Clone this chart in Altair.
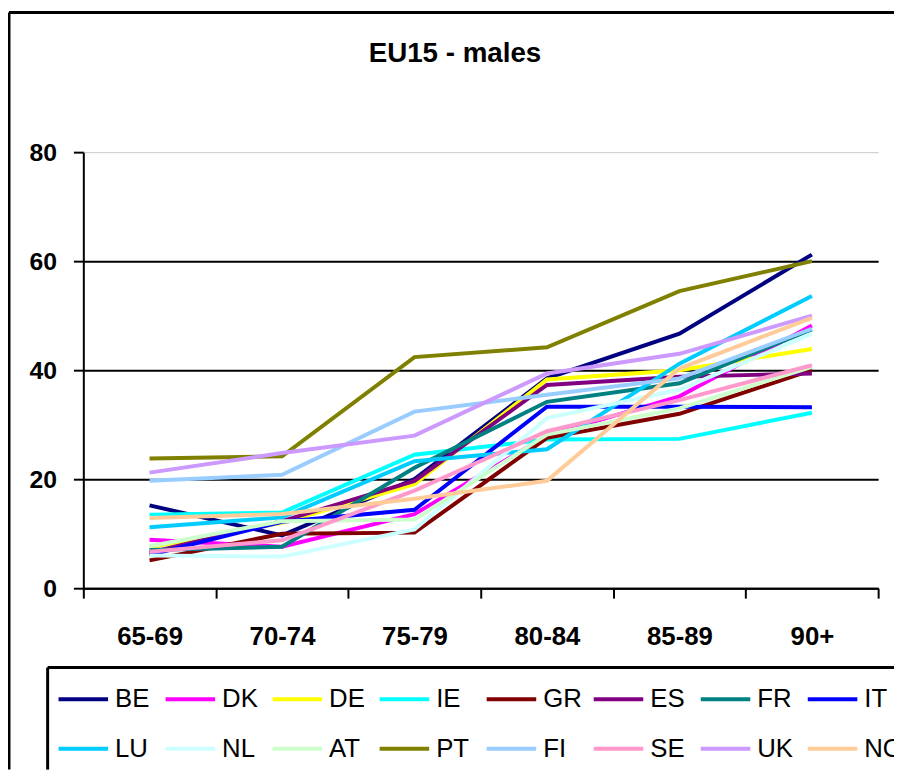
import altair as alt
import pandas as pd

categories = ["65-69", "70-74", "75-79", "80-84", "85-89", "90+"]
countries = ["BE", "DK", "DE", "IE", "GR", "ES", "FR", "IT",
             "LU", "NL", "AT", "PT", "FI", "SE", "UK", "NO"]
colors = ["#000080", "#FF00FF", "#FFFF00", "#00FFFF", "#800000", "#800080", "#008080", "#0000FF",
          "#00CCFF", "#CCFFFF", "#CCFFCC", "#808000", "#99CCFF", "#FF99CC", "#CC99FF", "#FFCC99"]

BE = [15.2, 9.7, 20.0, 38.5, 46.7, 61.2]
DK = [8.9, 7.6, 13.6, 28.0, 35.2, 48.2]
DE = [7.5, 12.0, 19.1, 38.3, 40.0, 43.9]
IE = [13.5, 13.9, 24.5, 27.3, 27.4, 32.2]
GR = [5.1, 10.0, 10.2, 27.6, 32.0, 40.0]
ES = [6.5, 12.3, 19.7, 37.3, 38.8, 39.4]
FR = [7.0, 7.6, 22.1, 34.2, 37.6, 47.5]
IT = [6.1, 12.2, 14.4, 33.3, 33.3, 33.2]
LU = [11.2, 13.0, 23.3, 25.5, 41.2, 53.6]
NL = [6.0, 5.8, 10.8, 31.2, 36.4, 46.7]
AT = [7.7, 12.3, 12.6, 28.2, 33.0, 40.6]
PT = [23.8, 24.2, 42.4, 44.2, 54.5, 60.0]
FI = [19.7, 20.8, 32.4, 35.5, 38.5, 47.6]
SE = [6.7, 8.8, 17.9, 28.8, 34.5, 40.9]
UK = [21.2, 24.8, 28.0, 39.4, 43.0, 50.0]
NO = [12.9, 13.6, 16.4, 19.7, 40.3, 49.6]

series = {"BE": BE, "DK": DK, "DE": DE, "IE": IE, "GR": GR, "ES": ES, "FR": FR, "IT": IT,
          "LU": LU, "NL": NL, "AT": AT, "PT": PT, "FI": FI, "SE": SE, "UK": UK, "NO": NO}

rows = []
for i, c in enumerate(countries):
    for cat, v in zip(categories, series[c]):
        rows.append({"country": c, "order": i, "age": cat, "value": v})
df = pd.DataFrame(rows)

W, H = 802, 440
PAD_L, PAD_T, PAD_R, PAD_B = 76, 142, 16, 183

FONT = "Liberation Sans, Arial"

lines = alt.Chart(df).mark_line(strokeWidth=4).encode(
    x=alt.X("age:N", sort=categories, bandPosition=0.5,
            scale=alt.Scale(type="band", paddingInner=0, paddingOuter=0),
            axis=alt.Axis(title=None, labelAngle=0, tickBand="extent", tickSize=10,
                          tickColor="black", tickWidth=2, domainColor="black", domainWidth=2,
                          labelFont=FONT, labelFontSize=26, labelFontWeight="bold",
                          labelColor="black", labelPadding=26, grid=False)),
    y=alt.Y("value:Q", scale=alt.Scale(domain=[0, 80], nice=False),
            axis=alt.Axis(title=None, values=[0, 20, 40, 60, 80], tickSize=10,
                          tickColor="black", tickWidth=2, domainColor="black", domainWidth=2,
                          labelFont=FONT, labelFontSize=25, labelFontWeight="bold",
                          labelColor="black", labelPadding=17, grid=True,
                          gridColor={"condition": {"test": "datum.value === 80", "value": "#c8c8c8"},
                                     "value": "black"},
                          gridWidth={"condition": {"test": "datum.value === 80", "value": 1},
                                     "value": 2})),
    color=alt.Color("country:N", sort=countries,
                    scale=alt.Scale(domain=countries, range=colors),
                    legend=alt.Legend(title=None, orient="none", legendX=-27, legendY=525,
                                      direction="horizontal", columns=8, symbolType="stroke",
                                      symbolSize=2500, symbolStrokeWidth=4, labelFont=FONT,
                                      labelFontSize=26, labelColor="black", labelOffset=5,
                                      columnPadding=4, rowPadding=10, gridAlign="all",
                                      padding=0, labelLimit=0)),
    order=alt.Order("order:Q"),
)

frame_data = alt.Data(values=[{"k": 1}])
frame_left = alt.Chart(frame_data).mark_rule(color="black", strokeWidth=3).encode(
    x=alt.value(-75), y=alt.value(-141), y2=alt.value(H + PAD_B))
frame_top = alt.Chart(frame_data).mark_rule(color="black", strokeWidth=3).encode(
    x=alt.value(-75), x2=alt.value(W + PAD_R), y=alt.value(-141))
legend_left = alt.Chart(frame_data).mark_rule(color="black", strokeWidth=3).encode(
    x=alt.value(-36), y=alt.value(520), y2=alt.value(H + PAD_B))
legend_top = alt.Chart(frame_data).mark_rule(color="black", strokeWidth=3).encode(
    x=alt.value(-36), x2=alt.value(W + PAD_R), y=alt.value(520))

chart = alt.layer(frame_left, frame_top, legend_left, legend_top, lines).properties(
    width=W, height=H,
    background="white",
    autosize=alt.AutoSizeParams(type="none"),
    padding={"left": PAD_L, "top": PAD_T, "right": PAD_R, "bottom": PAD_B},
    title=alt.TitleParams("EU15 - males", font=FONT, fontSize=28,
                          fontWeight="bold", color="black", anchor="middle", frame="group",
                          baseline="alphabetic", offset=-80, dx=-26),
).configure_view(strokeWidth=0, strokeOpacity=0)

chart.save("out.html", embed_options={"renderer": "svg", "actions": False})
